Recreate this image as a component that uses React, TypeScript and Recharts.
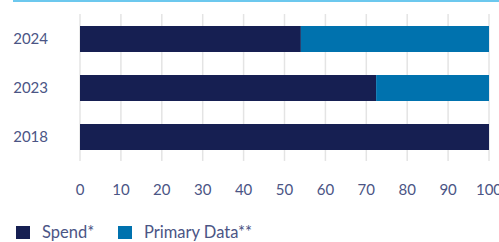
import { BarChart, Bar, XAxis, YAxis, CartesianGrid, Legend } from 'recharts'

const years = ['2024', '2023', '2018']
const spend = [54, 72.4, 100]
const primaryData = [46, 27.6, 0]
const xTicks = [0, 10, 20, 30, 40, 50, 60, 70, 80, 90, 100]

const NAVY = '#161f52'
const BLUE = '#0072ae'
const TEXT = '#4b5585'
const FONT = 'Lato, "Open Sans", sans-serif'

const data = years.map((year, i) => ({ year, spend: spend[i], primary: primaryData[i] }))

const legendItems = [
  { label: 'Spend*', color: NAVY },
  { label: 'Primary Data**', color: BLUE },
]

function LegendContent() {
  return (
    <div style={{ display: 'flex', alignItems: 'center', fontFamily: FONT, fontSize: 16.5, color: TEXT }}>
      {legendItems.map((item, i) => (
        <div key={item.label} style={{ display: 'flex', alignItems: 'center', width: i === 0 ? 102 : 'auto' }}>
          <span style={{ width: 14, height: 13, background: item.color, display: 'inline-block', marginRight: 12 }} />
          <span>{item.label}</span>
        </div>
      ))}
    </div>
  )
}

export default function App() {
  return (
    <div style={{ position: 'absolute', left: 0, top: 0, width: 499, height: 242, background: '#fff' }}>
      <div style={{ position: 'absolute', left: 13, top: 0, width: 486, height: 2, background: '#6cc8ee' }} />
      <BarChart
        width={499}
        height={242}
        data={data}
        layout="vertical"
        margin={{ top: 14, right: 10, bottom: 0, left: 0 }}
        barSize={26}
      >
        <CartesianGrid horizontal={false} stroke="#e4e4e4" strokeWidth={1.5} />
        <XAxis
          type="number"
          domain={[0, 100]}
          ticks={xTicks}
          axisLine={false}
          tickLine={false}
          tickSize={0}
          tickMargin={23}
          height={81}
          interval={0}
          tick={{ fill: TEXT, fontSize: 15, fontFamily: FONT }}
        />
        <YAxis
          type="category"
          dataKey="year"
          width={80}
          axisLine={false}
          tickLine={false}
          tickSize={0}
          tickMargin={32}
          tick={{ fill: TEXT, fontSize: 15, fontFamily: FONT }}
        />
        <Bar dataKey="spend" stackId="a" fill={NAVY} isAnimationActive={false} />
        <Bar dataKey="primary" stackId="a" fill={BLUE} isAnimationActive={false} />
        <Legend
          layout="horizontal"
          verticalAlign="middle"
          align="center"
          content={<LegendContent />}
          wrapperStyle={{ top: 222, left: 16, width: 'auto' }}
        />
      </BarChart>
    </div>
  )
}
